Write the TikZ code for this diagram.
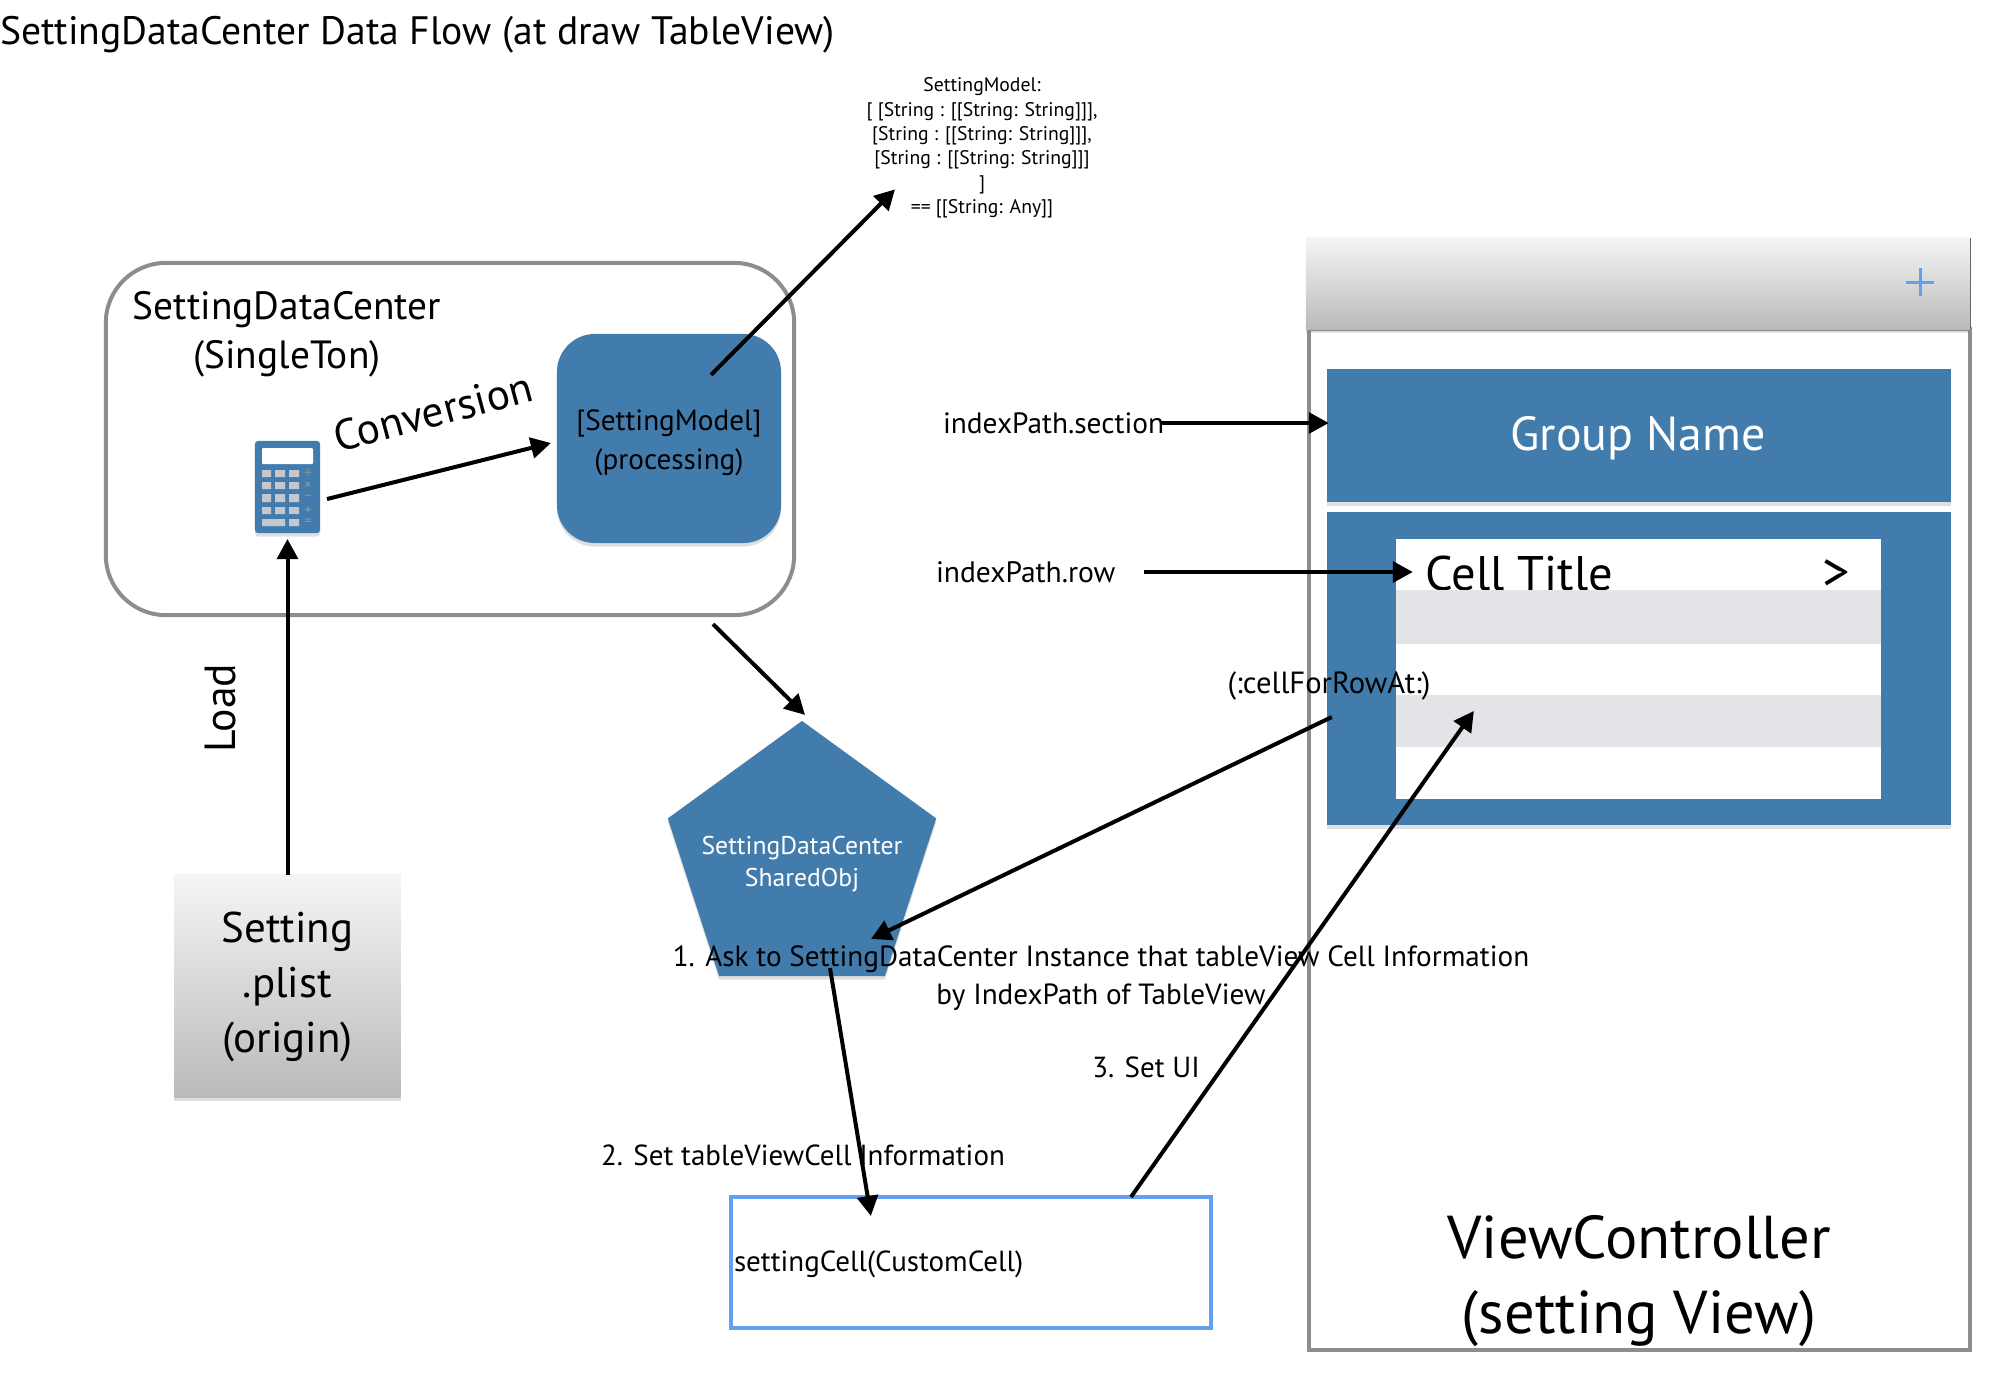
\documentclass[tikz,border=0pt]{standalone}
\usepackage{fontspec}
\setmainfont{PT Sans}
\usetikzlibrary{arrows.meta,calc,shadows,shapes.geometric}
\definecolor{cardblue}{RGB}{66,124,172}
\definecolor{framegray}{RGB}{138,141,145}
\definecolor{stripegray}{RGB}{227,228,232}
\definecolor{cellblue}{RGB}{100,160,240}
\definecolor{keygray}{RGB}{196,200,204}
\definecolor{signtan}{RGB}{170,155,130}
\tikzset{
  softshadow/.style={drop shadow={shadow xshift=0pt,shadow yshift=-1pt,opacity=0.25}},
  bluecard/.style={rectangle,fill=cardblue,inner sep=0pt,outer sep=0pt,softshadow},
  flow/.style={-{Triangle[length=5.7pt,width=5.9pt]},line width=0.04cm,black},
  note/.style={inner sep=0pt,outer sep=0pt,align=center,font=\fontsize{8.25}{11}\selectfont},
  bigtext/.style={inner sep=0pt,outer sep=0pt,align=center,font=\fontsize{11.2}{13.85}\selectfont},
  signmark/.style={signtan,inner sep=0pt,font=\fontsize{4}{4}\selectfont},
  metal/.style={rectangle,inner sep=0pt,outer sep=0pt,top color=white!96!black,bottom color=black!27,softshadow}
}
\begin{document}
\begin{tikzpicture}[x=0.01cm,y=-0.01cm]
\useasboundingbox (0,0) rectangle (2008,1390);
\node[bigtext,anchor=west,font=\fontsize{11.27}{14}\selectfont] (title) at (0,35) {SettingDataCenter Data Flow (at draw TableView)};
% singleton box
\node[draw=framegray,line width=0.04cm,rounded corners=0.6cm,minimum width=6.88cm,minimum height=3.52cm,inner sep=0pt,outer sep=0pt] (center) at (450,439) {};
\node[bigtext] (centername) at (287,334) {SettingDataCenter\\(SingleTon)};
\node[bluecard,rounded corners=0.38cm,minimum width=2.24cm,minimum height=2.09cm] (model) at (669,438.5) {};
\node[note,font=\fontsize{8.3}{11}\selectfont] (modeltext) at (669,443) {[SettingModel]\\(processing)};
% calculator
\node[bluecard,rounded corners=0.03cm,minimum width=0.65cm,minimum height=0.92cm] (calc) at (287.5,487) {};
\fill[white,rounded corners=0.01cm] (262,448) rectangle (313,464);
\fill[keygray] (262,470) rectangle (271,477) (275,470) rectangle (285,477) (289,470) rectangle (299,477);
\fill[keygray] (262,482) rectangle (271,489) (275,482) rectangle (285,489) (289,482) rectangle (299,489);
\fill[keygray] (262,494) rectangle (271,502) (275,494) rectangle (285,502) (289,494) rectangle (299,502);
\fill[keygray] (262,507) rectangle (271,514) (275,507) rectangle (285,514) (289,507) rectangle (299,514);
\fill[keygray] (262,519) rectangle (285,526) (289,519) rectangle (299,526);
\node[signmark] (signdiv) at (308,473.5) {÷};
\node[signmark] (signmul) at (308,485.5) {×};
\node[signmark] (signsub) at (308,498) {−};
\node[signmark] (signadd) at (308,510.5) {+};
\node[signmark] (signeq) at (308,522.5) {=};
\node[bigtext,rotate=15,font=\fontsize{12.3}{15}\selectfont] (convert) at (433,412) {Conversion};
\node[metal,minimum width=2.26cm,minimum height=2.22cm] (plist) at (287.5,986) {};
\node[bigtext,font=\fontsize{12.2}{15.55}\selectfont] (plisttext) at (287.5,987) {Setting\\.plist\\(origin)};
\node[bigtext,rotate=90,font=\fontsize{12.4}{15}\selectfont] (load) at (220,708) {Load};
\node[note,font=\fontsize{5.6}{6.95}\selectfont] (schema) at (982,148) {SettingModel:\\{[} [String : [[String: String]]],\\{[}String : [[String: String]]],\\{[}String : [[String: String]]]\\{]}\\== [[String: Any]]};
% shared object
\node[regular polygon,regular polygon sides=5,fill=cardblue,minimum size=2.82cm,inner sep=0pt,outer sep=0pt,softshadow] (shared) at (802,862) {};
\node[note,text=white,font=\fontsize{7.3}{9.1}\selectfont] (sharedtext) at (802,864) {SettingDataCenter\\SharedObj};
% view controller
\node[draw=framegray,line width=0.04cm,minimum width=6.61cm,minimum height=10.21cm,inner sep=0pt,outer sep=0pt] (view) at (1639.5,839.5) {};
\node[metal,minimum width=6.64cm,minimum height=0.91cm] (nav) at (1638,283.5) {};
\draw[line width=0.01cm,black!60] (nav.north east) -- (nav.south east);
\node[inner sep=0pt,outer sep=0pt,minimum size=0.28cm] (plus) at (1920,282) {};
\draw[cellblue,line width=0.03cm] (plus.west) -- (plus.east) (plus.north) -- (plus.south);
\node[bluecard,minimum width=6.24cm,minimum height=1.33cm] (group) at (1639,435.5) {};
\node[bigtext,text=white,font=\fontsize{13.6}{15}\selectfont] (grouptext) at (1638,438) {Group Name};
\node[bluecard,minimum width=6.24cm,minimum height=3.13cm] (rows) at (1639,668.5) {};
\node[rectangle,fill=white,minimum width=4.85cm,minimum height=2.6cm,inner sep=0pt,outer sep=0pt] (table) at (1638.5,669) {};
\node[anchor=west,inner sep=0pt,font=\fontsize{13.8}{16}\selectfont] (celltitle) at (1425,574) {Cell Title};
\node[inner sep=0pt,font=\fontsize{15.5}{16}\selectfont] (chevron) at (1836,575) {>};
\node[rectangle,fill=stripegray,minimum width=4.85cm,minimum height=0.53cm,inner sep=0pt,outer sep=0pt] (stripeup) at (1638.5,617) {};
\node[rectangle,fill=stripegray,minimum width=4.85cm,minimum height=0.52cm,inner sep=0pt,outer sep=0pt] (stripedown) at (1638.5,721) {};
\node[bigtext,font=\fontsize{17.2}{21.5}\selectfont] (viewname) at (1639,1281) {ViewController\\(setting View)};
\node[note,anchor=west,font=\fontsize{8.35}{11}\selectfont] (sectionlabel) at (943,423) {indexPath.section};
\node[note,anchor=west,font=\fontsize{8.4}{11}\selectfont] (rowlabel) at (936,572) {indexPath.row};
\node[note,font=\fontsize{8.7}{11}\selectfont] (cellfor) at (1329,686) {(:cellForRowAt:)};
\node[note,font=\fontsize{8.3}{10.8}\selectfont] (stepone) at (1101,978) {1. Ask to SettingDataCenter Instance that tableView Cell Information\\by IndexPath of TableView};
\node[note] (steptwo) at (803,1155) {2. Set tableViewCell Information};
\node[note] (stepthree) at (1146,1067) {3. Set UI};
\node[draw=cellblue,line width=0.04cm,minimum width=4.8cm,minimum height=1.31cm,inner sep=0pt,outer sep=0pt] (cell) at (971,1262.5) {};
\node[note,anchor=west] (celltext) at (734,1264.5) {settingCell(CustomCell)};
% connectors
\draw[flow,shorten >=6*0.01cm] (plist.north) -- (calc.south -| plist.north);
\draw[flow] ($(calc.east)+(7,12)$) -- ($(model.west)+(-6,4.5)$);
\draw[flow] ($(model.north)+(42,41)$) -- ($(schema.south)+(-87,-29)$);
\draw[flow] ($(center.south)+(263,9)$) -- ($(shared.corner 1)+(3,-6)$);
\draw[flow] ($(sectionlabel.east)+(-3,0)$) -- ($(sectionlabel.east -| group.west)+(2,0)$);
\draw[flow] ($(rowlabel.east)+(29,0)$) -- ($(rowlabel.east -| table.west)+(17,0)$);
\draw[flow] ($(rows.west)+(5,48.5)$) -- ($(shared.center)+(69,77)$);
\draw[flow] ($(shared.center)+(28,106)$) -- ($(cell.north west)+(140,19)$);
\draw[flow] ($(cell.north)+(160,0)$) -- ($(table.north west)+(78,172)$);
\end{tikzpicture}
\end{document}
